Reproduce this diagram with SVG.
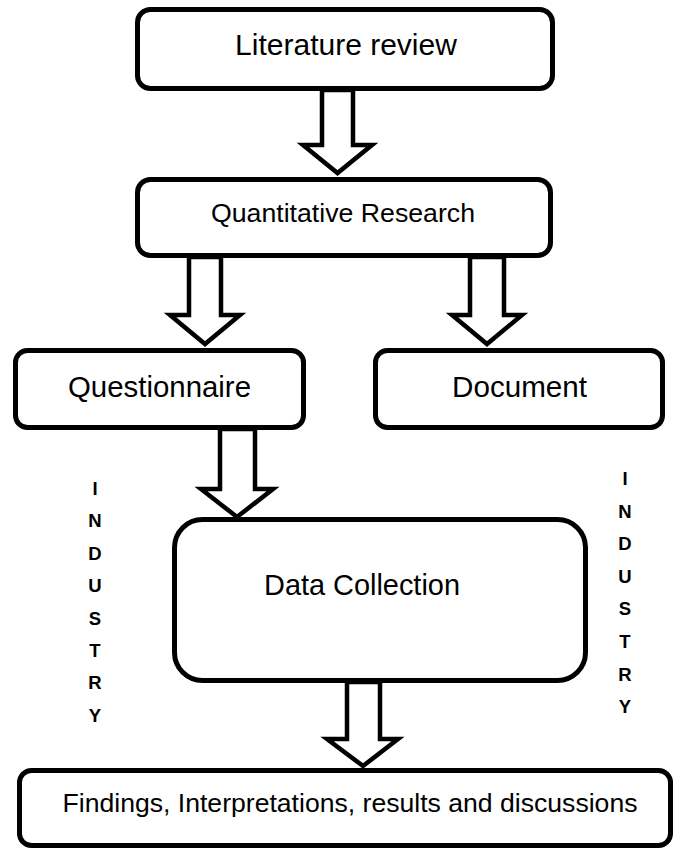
<svg xmlns="http://www.w3.org/2000/svg" width="674" height="850" viewBox="0 0 674 850">
<style>
.box{fill:#fff;stroke:#000;stroke-width:5}
.arr{fill:#fff;stroke:#000;stroke-width:4.5;stroke-linejoin:miter}
.t{font-family:"Liberation Sans",Arial,sans-serif;fill:#000;text-anchor:middle}
.ind{font-family:"Liberation Sans",Arial,sans-serif;font-weight:bold;font-size:18.5px;fill:#000;text-anchor:middle}
</style>
<rect width="674" height="850" fill="#fff"/>
<g id="lit"><rect class="box" x="137.5" y="9.5" width="415" height="79" rx="13"/><text class="t" x="346" y="55" font-size="30">Literature review</text></g>
<g id="quant"><rect class="box" x="137.5" y="179.5" width="413" height="76" rx="13"/><text class="t" x="343" y="222" font-size="26.7">Quantitative Research</text></g>
<g id="quest"><rect class="box" x="15.5" y="350.5" width="288" height="77" rx="12"/><text class="t" x="159.5" y="397" font-size="29.4">Questionnaire</text></g>
<g id="doc"><rect class="box" x="375.5" y="350.5" width="287" height="77" rx="12"/><text class="t" x="519.5" y="397" font-size="29.6">Document</text></g>
<g id="data"><rect class="box" x="174.5" y="519.5" width="411" height="161" rx="28"/><text class="t" x="362" y="595" font-size="28.9">Data Collection</text></g>
<g id="find"><rect class="box" x="19.5" y="770.5" width="651" height="75" rx="12"/><text class="t" x="350" y="812" font-size="26.6">Findings, Interpretations, results and discussions</text></g>
<g id="connectors">
<polygon class="arr" points="322,90 353,90 353,145 372,145 337.5,173 303,145 322,145"/>
<polygon class="arr" points="189,257 221,257 221,315 240,315 205,344 170,315 189,315"/>
<polygon class="arr" points="470,257 504,257 504,315 522,315 487,344 452,315 470,315"/>
<polygon class="arr" points="220,429 255,429 255,489 273,489 237,517 201,489 220,489"/>
<polygon class="arr" points="347,682 380,682 380,739 398,739 363,766 327,739 347,739"/>
</g>
<g id="industry-left">
<text class="ind" x="95" y="495">I</text>
<text class="ind" x="95" y="527">N</text>
<text class="ind" x="95" y="560">D</text>
<text class="ind" x="95" y="592">U</text>
<text class="ind" x="95" y="625">S</text>
<text class="ind" x="95" y="657">T</text>
<text class="ind" x="95" y="689">R</text>
<text class="ind" x="95" y="722">Y</text>
</g>
<g id="industry-right">
<text class="ind" x="625" y="485">I</text>
<text class="ind" x="625" y="518">N</text>
<text class="ind" x="625" y="550">D</text>
<text class="ind" x="625" y="583">U</text>
<text class="ind" x="625" y="615">S</text>
<text class="ind" x="625" y="648">T</text>
<text class="ind" x="625" y="681">R</text>
<text class="ind" x="625" y="713">Y</text>
</g>
</svg>
